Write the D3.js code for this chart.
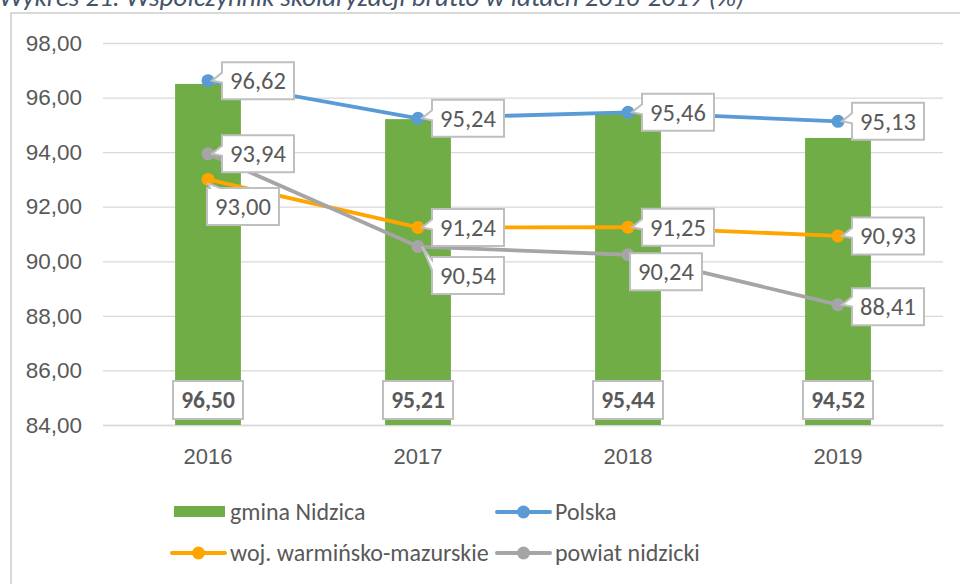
<!DOCTYPE html>
<html>
<head>
<meta charset="utf-8">
<script src="https://cdn.jsdelivr.net/npm/d3@7"></script>
<style>
  body { margin: 0; background: #fff; }
  svg { display: block; font-family: Carlito, Lato, "Open Sans", sans-serif; }
</style>
</head>
<body>
<div id="viz"></div>
<script>
const years = ['2016', '2017', '2018', '2019'];
const gmina = [96.50, 95.21, 95.44, 94.52];
const polska = [96.62, 95.24, 95.46, 95.13];
const woj = [93.00, 91.24, 91.25, 90.93];
const powiat = [93.94, 90.54, 90.24, 88.41];
const yTicks = [84, 86, 88, 90, 92, 94, 96, 98];

// where each callout box sits relative to its point
const polskaShift = [[14, 0], [14, 0], [14, 0], [14, 0]];
const wojShift = [[-1, 27], [14, 0], [14, 0], [14, 0]];
const powiatShift = [[14, 0], [14, 29], [2, 17], [14, 2]];

const fmt = v => v.toFixed(2).replace('.', ',');
const txt = '#595959';

const svg = d3.select('#viz')
      .append('svg')
      .attr('width', 960)
      .attr('height', 584);

svg.append('text')
    .attr('x', -1)
    .attr('y', 6)
    .attr('font-size', 27)
    .attr('font-style', 'italic')
    .attr('fill', '#44546a')
    .text('Wykres 21. Współczynnik skolaryzacji brutto w latach 2016-2019 (%)');

svg.append('rect')
    .attr('x', 11)
    .attr('y', 13)
    .attr('width', 980)
    .attr('height', 600)
    .attr('fill', '#fff')
    .attr('stroke', '#d9d9d9')
    .attr('stroke-width', 2);

const x = d3.scaleBand().domain(years).range([103, 943]);
const y = d3.scaleLinear().domain([84, 98]).range([425, 43]);
const barW = x.bandwidth() / 3.19;
const cx = d => x(d) + x.bandwidth() / 2;

// gridlines + y labels
const yAxis = svg.append('g')
    .attr('transform', 'translate(103,0)')
    .call(d3.axisLeft(y).tickValues(yTicks).tickSize(-840).tickFormat(fmt).tickPadding(21));
yAxis.select('.domain').remove();
yAxis.selectAll('line').attr('stroke', '#d9d9d9').attr('stroke-width', 1.3);
yAxis.selectAll('text').attr('fill', txt).attr('font-size', 22.5).attr('font-family', null);

const xAxis = svg.append('g')
    .attr('transform', 'translate(0,425)')
    .call(d3.axisBottom(x).tickSize(0).tickPadding(23));
xAxis.select('.domain').attr('stroke', '#d9d9d9').attr('stroke-width', 1.3);
xAxis.selectAll('text').attr('fill', txt).attr('font-size', 22).attr('font-family', null);

// bars
svg.append('g').selectAll('rect')
    .data(gmina)
    .join('rect')
    .attr('x', (d, i) => cx(years[i]) - barW / 2)
    .attr('width', barW)
    .attr('y', d => y(d))
    .attr('height', d => y(84) - y(d))
    .attr('fill', '#70ad47');

const barLab = svg.append('g').selectAll('g')
    .data(gmina)
    .join('g')
    .attr('transform', (d, i) => `translate(${cx(years[i])},${y(84) - 25})`);
barLab.append('rect')
    .attr('x', -35).attr('y', -19)
    .attr('width', 70).attr('height', 38)
    .attr('fill', '#fff')
    .attr('stroke', '#bfbfbf')
    .attr('stroke-width', 2);
barLab.append('text')
    .attr('text-anchor', 'middle')
    .attr('dy', '0.35em')
    .attr('font-size', 23.5)
    .attr('font-weight', 'bold')
    .attr('fill', txt)
    .text(fmt);

function callout(px, py, bx, by, w, h) {
  if (px < bx - 4) {
    const b1 = Math.max(by + 3, Math.min(py - 8, by + h - 14));
    return `M${bx},${by}H${bx + w}V${by + h}H${bx}V${b1 + 10}L${px + 4},${py}L${bx},${b1}Z`;
  }
  if (py < by) {
    const a1 = Math.max(bx + 3, Math.min(px - 4, bx + w - 14));
    return `M${bx},${by}H${a1}L${px},${py + 4}L${a1 + 10},${by}H${bx + w}V${by + h}H${bx}Z`;
  }
  return `M${bx},${by}H${bx + w}V${by + h}H${bx}Z`;
}

function drawLine(vals, color) {
  const pts = vals.map((v, i) => [cx(years[i]), y(v)]);
  svg.append('path')
      .attr('d', d3.line()(pts))
      .attr('fill', 'none')
      .attr('stroke', color)
      .attr('stroke-width', 3.8)
      .attr('stroke-linejoin', 'round');
  svg.append('g').selectAll('circle')
      .data(pts)
      .join('circle')
      .attr('cx', d => d[0])
      .attr('cy', d => d[1])
      .attr('r', 6.5)
      .attr('fill', color);
  return pts;
}

function drawLabels(vals, pts, shift) {
  const w = 72, h = 37;
  const g = svg.append('g').selectAll('g')
      .data(vals)
      .join('g');
  g.append('path')
      .attr('d', (d, i) => {
        const [px, py] = pts[i];
        const bx = px + shift[i][0];
        const by = py + shift[i][1] - h / 2;
        return callout(px, py, bx, by, w, h);
      })
      .attr('fill', '#fff')
      .attr('stroke', '#bfbfbf')
      .attr('stroke-width', 2);
  g.append('text')
      .attr('x', (d, i) => pts[i][0] + shift[i][0] + w / 2)
      .attr('y', (d, i) => pts[i][1] + shift[i][1])
      .attr('dy', '0.35em')
      .attr('text-anchor', 'middle')
      .attr('font-size', 24.5)
      .attr('fill', txt)
      .text(fmt);
}

const pWoj = drawLine(woj, '#ffa500');
const pPow = drawLine(powiat, '#a5a5a5');
const pPol = drawLine(polska, '#5b9bd5');
drawLabels(woj, pWoj, wojShift);
drawLabels(powiat, pPow, powiatShift);
drawLabels(polska, pPol, polskaShift);

// legend
const legend = [
  { name: 'gmina Nidzica', color: '#70ad47', bar: true, lx: 174, ly: 512 },
  { name: 'Polska', color: '#5b9bd5', bar: false, lx: 497, ly: 512 },
  { name: 'woj. warmińsko-mazurskie', color: '#ffa500', bar: false, lx: 172, ly: 553 },
  { name: 'powiat nidzicki', color: '#a5a5a5', bar: false, lx: 497, ly: 553 }
];
const lg = svg.append('g').selectAll('g')
    .data(legend)
    .join('g')
    .attr('transform', d => `translate(${d.lx},${d.ly})`);
lg.filter(d => d.bar).append('rect')
    .attr('x', 0).attr('y', -6)
    .attr('width', 51).attr('height', 11)
    .attr('fill', d => d.color);
lg.filter(d => !d.bar).append('line')
    .attr('x1', 0).attr('x2', 53)
    .attr('stroke', d => d.color)
    .attr('stroke-width', 4)
    .attr('stroke-linecap', 'round');
lg.filter(d => !d.bar).append('circle')
    .attr('cx', 26.5).attr('r', 6.5)
    .attr('fill', d => d.color);
lg.append('text')
    .attr('x', d => d.bar ? 56 : 58)
    .attr('dy', '0.35em')
    .attr('font-size', 24)
    .attr('fill', txt)
    .text(d => d.name);
</script>
</body>
</html>
